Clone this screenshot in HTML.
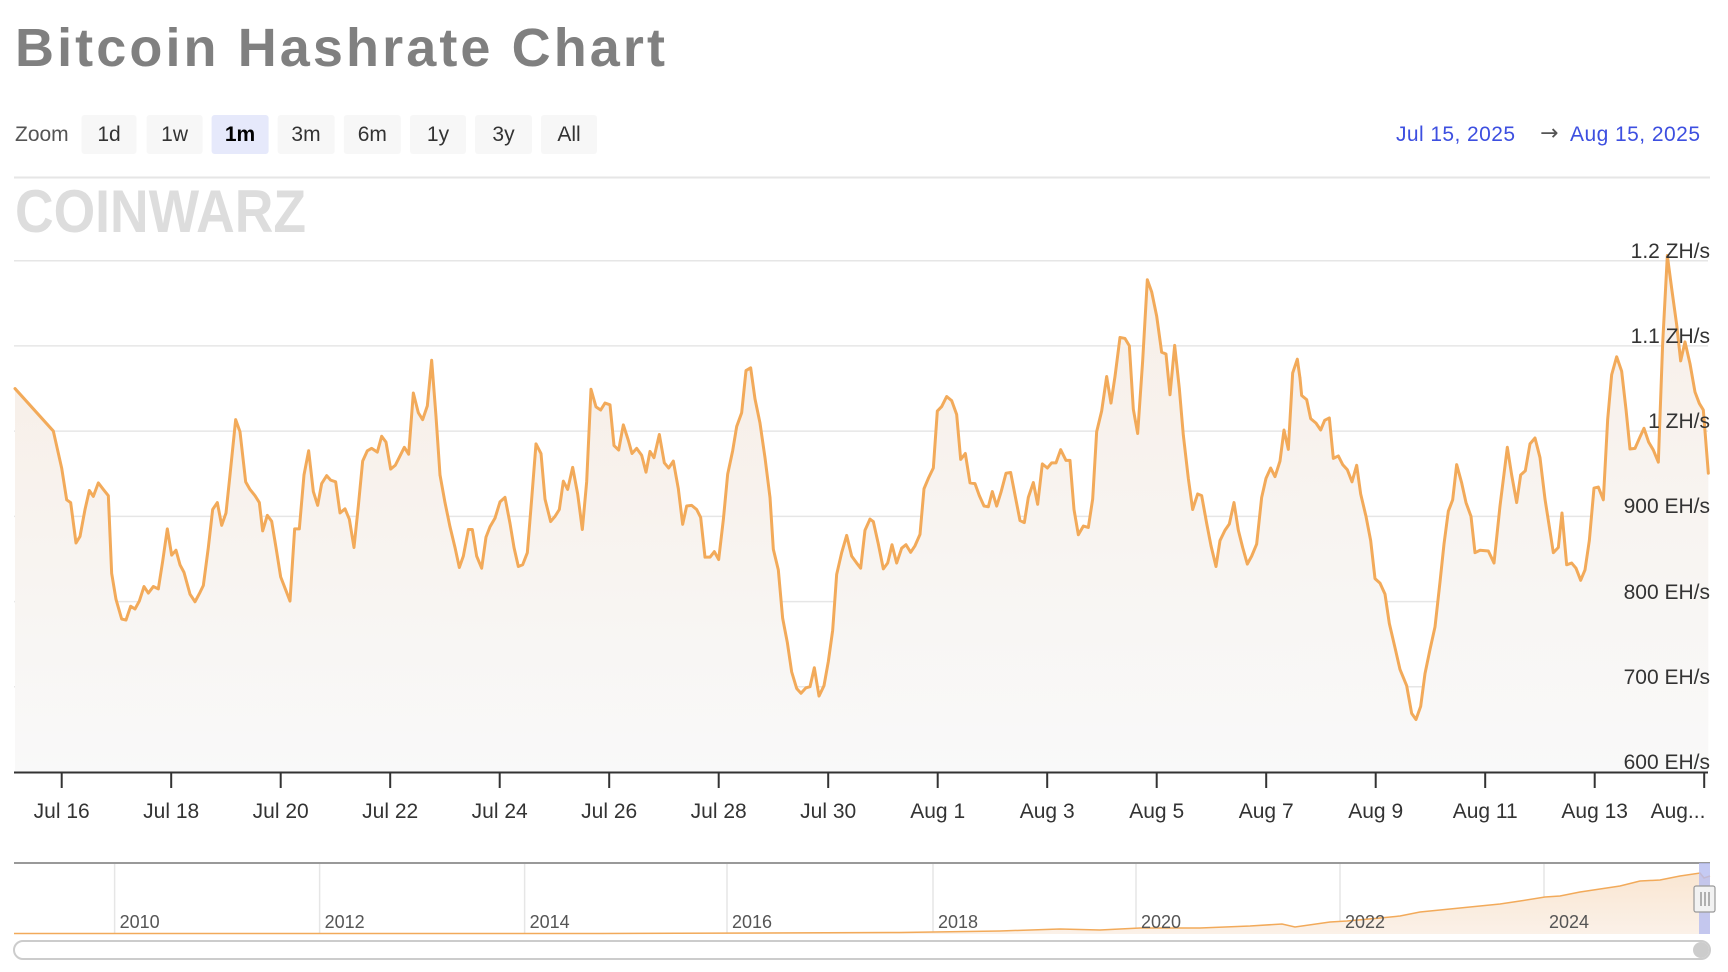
<!DOCTYPE html>
<html><head><meta charset="utf-8"><style>
html,body{margin:0;padding:0;background:#fff;}
svg{display:block;font-family:"Liberation Sans",sans-serif;}
</style></head><body>
<svg width="1728" height="972" viewBox="0 0 1728 972" xmlns="http://www.w3.org/2000/svg">
<defs>
<linearGradient id="fg" x1="0" y1="0" x2="0" y2="1">
<stop offset="0" stop-color="#f7efe8"/><stop offset="1" stop-color="#f9f9f9"/>
</linearGradient>
<linearGradient id="ng" x1="0" y1="0" x2="0" y2="1">
<stop offset="0" stop-color="#f9e6d2"/><stop offset="1" stop-color="#fbf1e8"/>
</linearGradient>
</defs>
<text x="15" y="66" font-size="54" font-weight="bold" fill="#808080" textLength="650" lengthAdjust="spacing">Bitcoin Hashrate Chart</text>
<text x="15" y="141" font-size="21" fill="#555">Zoom</text>
<g font-size="21" fill="#333" text-anchor="middle">
<rect x="81.5" y="115" width="55" height="39" rx="3" fill="#f7f7f7"/><text x="109" y="141">1d</text>
<rect x="146.6" y="115" width="56" height="39" rx="3" fill="#f7f7f7"/><text x="174.6" y="141">1w</text>
<rect x="211.6" y="115" width="57" height="39" rx="3" fill="#e6e9fb"/><text x="240" y="141" font-weight="bold" fill="#000">1m</text>
<rect x="277.7" y="115" width="57" height="39" rx="3" fill="#f7f7f7"/><text x="306" y="141">3m</text>
<rect x="343.8" y="115" width="57" height="39" rx="3" fill="#f7f7f7"/><text x="372.3" y="141">6m</text>
<rect x="410" y="115" width="56" height="39" rx="3" fill="#f7f7f7"/><text x="438" y="141">1y</text>
<rect x="475" y="115" width="57" height="39" rx="3" fill="#f7f7f7"/><text x="503.5" y="141">3y</text>
<rect x="541" y="115" width="56" height="39" rx="3" fill="#f7f7f7"/><text x="569" y="141">All</text>
</g>
<text x="1396" y="141" font-size="21" fill="#3d4fe0" textLength="119">Jul 15, 2025</text>
<text x="1540" y="140" font-size="22" fill="#555" font-family="DejaVu Sans, sans-serif">→</text>
<text x="1570" y="141" font-size="21" fill="#3d4fe0" textLength="130">Aug 15, 2025</text>
<line x1="14" y1="177.5" x2="1710" y2="177.5" stroke="#e6e6e6" stroke-width="2"/>
<text x="15" y="232" font-size="60" font-weight="bold" fill="#dddddd" textLength="291" lengthAdjust="spacingAndGlyphs">COINWARZ</text>
<g stroke="#e6e6e6" stroke-width="1.5">
<line x1="14" y1="260.7" x2="1708" y2="260.7"/>
<line x1="14" y1="345.9" x2="1708" y2="345.9"/>
<line x1="14" y1="431.1" x2="1708" y2="431.1"/>
<line x1="14" y1="516.4" x2="1708" y2="516.4"/>
<line x1="14" y1="601.6" x2="1708" y2="601.6"/>
<line x1="14" y1="686.8" x2="1708" y2="686.8"/>
</g>
<g fill="url(#fg)" stroke="none">
<g transform="translate(0,240) scale(0.33333,0.3455)">
<polygon points="45,1540 45,430 160,553 185,660 200,752 212,760 228,877 240,858 255,780 268,725 280,742 295,703 310,722 325,740 335,965 348,1040 365,1097 378,1100 392,1060 405,1068 418,1045 432,1003 445,1022 460,1003 475,1010 488,930 502,836 515,912 528,898 540,940 552,962 570,1025 585,1047 600,1020 610,1000 625,890 638,780 652,760 665,826 678,790 690,680 707,520 720,555 730,640 737,700 750,722 765,740 778,760 788,842 802,797 815,814 828,890 842,975 856,1010 870,1045 884,836 898,836 912,680 926,610 940,728 953,768 965,705 980,682 992,695 1007,700 1020,790 1035,778 1048,808 1062,890 1075,770 1088,640 1102,610 1115,603 1132,614 1145,568 1158,585 1172,663 1186,652 1200,625 1213,600 1226,620 1240,443 1255,500 1268,520 1282,480 1295,348 1308,510 1320,680 1320,1540"/>
</g>
<g transform="translate(430,240) scale(0.33333,0.3455)">
<polygon points="30,1540 30,680 45,760 60,830 75,890 88,948 100,915 115,838 127,838 140,915 155,950 168,860 180,830 195,805 210,758 225,745 240,820 252,890 265,945 278,940 292,905 305,750 318,590 333,618 345,750 362,815 375,800 388,780 400,698 413,722 428,658 443,735 457,838 470,700 483,432 498,483 512,492 525,472 540,477 552,595 566,608 580,535 595,580 606,618 620,603 635,623 648,672 660,612 672,630 688,563 703,645 716,660 730,640 745,720 758,823 770,770 785,768 800,780 812,803 825,918 840,918 853,902 866,925 880,810 893,678 908,610 920,540 935,500 948,378 962,370 975,460 990,530 1005,630 1020,745 1030,895 1045,955 1058,1095 1072,1165 1085,1250 1100,1298 1113,1312 1128,1296 1140,1293 1153,1238 1167,1320 1182,1290 1195,1220 1208,1130 1220,968 1235,905 1250,855 1265,915 1280,935 1292,950 1305,840 1320,808 1320,1540"/>
</g>
<g transform="translate(860,240) scale(0.33333,0.3455)">
<polygon points="30,1540 30,808 40,815 55,880 70,952 83,935 96,882 110,935 125,892 138,882 152,904 165,885 180,852 192,720 205,690 220,660 232,495 245,482 260,453 275,465 290,505 302,635 316,618 330,703 345,705 358,740 372,770 385,772 397,728 410,770 423,730 438,675 452,673 466,743 480,812 493,818 505,745 520,702 533,765 547,648 562,660 575,645 588,645 602,607 618,638 630,638 642,780 655,853 670,828 685,832 698,750 710,555 725,495 740,395 753,472 765,395 780,282 795,285 808,306 820,490 833,560 848,350 862,115 875,150 890,220 905,325 918,330 930,448 944,305 958,430 970,565 985,690 998,780 1013,735 1025,740 1040,820 1053,885 1068,945 1080,870 1095,840 1108,822 1122,760 1135,840 1148,890 1162,938 1175,915 1190,880 1205,745 1218,690 1232,660 1245,685 1260,640 1272,550 1285,606 1298,385 1312,345 1320,400 1320,1540"/>
</g>
<g transform="translate(1290,240) scale(0.33333,0.3455)">
<polygon points="30,1540 30,400 35,450 50,462 62,517 78,530 92,550 104,522 118,515 130,632 145,625 158,650 172,665 186,700 200,652 212,735 228,800 242,870 255,980 270,993 285,1025 298,1110 315,1180 330,1243 350,1290 365,1370 378,1388 392,1350 405,1255 420,1185 435,1120 450,990 462,880 475,785 488,752 500,650 515,703 528,760 543,800 555,905 570,898 595,900 612,935 630,770 652,600 665,680 680,760 692,680 706,668 720,590 735,573 750,630 765,750 778,830 790,905 805,890 816,790 830,940 845,935 858,950 872,985 885,955 898,870 912,718 925,715 940,752 953,520 965,390 980,338 995,380 1008,490 1020,605 1035,603 1050,570 1062,545 1076,585 1090,608 1105,643 1118,300 1132,45 1145,140 1160,245 1172,350 1185,295 1200,358 1215,440 1228,473 1240,492 1255,675 1255,1540"/>
</g>
</g>
<g fill="none" stroke="#f2aa5a" stroke-width="3" stroke-linejoin="round" stroke-linecap="round">
<g transform="translate(0,240) scale(0.33333,0.3455)">
<polyline vector-effect="non-scaling-stroke" points="45,430 160,553 185,660 200,752 212,760 228,877 240,858 255,780 268,725 280,742 295,703 310,722 325,740 335,965 348,1040 365,1097 378,1100 392,1060 405,1068 418,1045 432,1003 445,1022 460,1003 475,1010 488,930 502,836 515,912 528,898 540,940 552,962 570,1025 585,1047 600,1020 610,1000 625,890 638,780 652,760 665,826 678,790 690,680 707,520 720,555 730,640 737,700 750,722 765,740 778,760 788,842 802,797 815,814 828,890 842,975 856,1010 870,1045 884,836 898,836 912,680 926,610 940,728 953,768 965,705 980,682 992,695 1007,700 1020,790 1035,778 1048,808 1062,890 1075,770 1088,640 1102,610 1115,603 1132,614 1145,568 1158,585 1172,663 1186,652 1200,625 1213,600 1226,620 1240,443 1255,500 1268,520 1282,480 1295,348 1308,510 1320,680"/>
</g>
<g transform="translate(430,240) scale(0.33333,0.3455)">
<polyline vector-effect="non-scaling-stroke" points="30,680 45,760 60,830 75,890 88,948 100,915 115,838 127,838 140,915 155,950 168,860 180,830 195,805 210,758 225,745 240,820 252,890 265,945 278,940 292,905 305,750 318,590 333,618 345,750 362,815 375,800 388,780 400,698 413,722 428,658 443,735 457,838 470,700 483,432 498,483 512,492 525,472 540,477 552,595 566,608 580,535 595,580 606,618 620,603 635,623 648,672 660,612 672,630 688,563 703,645 716,660 730,640 745,720 758,823 770,770 785,768 800,780 812,803 825,918 840,918 853,902 866,925 880,810 893,678 908,610 920,540 935,500 948,378 962,370 975,460 990,530 1005,630 1020,745 1030,895 1045,955 1058,1095 1072,1165 1085,1250 1100,1298 1113,1312 1128,1296 1140,1293 1153,1238 1167,1320 1182,1290 1195,1220 1208,1130 1220,968 1235,905 1250,855 1265,915 1280,935 1292,950 1305,840 1320,808"/>
</g>
<g transform="translate(860,240) scale(0.33333,0.3455)">
<polyline vector-effect="non-scaling-stroke" points="30,808 40,815 55,880 70,952 83,935 96,882 110,935 125,892 138,882 152,904 165,885 180,852 192,720 205,690 220,660 232,495 245,482 260,453 275,465 290,505 302,635 316,618 330,703 345,705 358,740 372,770 385,772 397,728 410,770 423,730 438,675 452,673 466,743 480,812 493,818 505,745 520,702 533,765 547,648 562,660 575,645 588,645 602,607 618,638 630,638 642,780 655,853 670,828 685,832 698,750 710,555 725,495 740,395 753,472 765,395 780,282 795,285 808,306 820,490 833,560 848,350 862,115 875,150 890,220 905,325 918,330 930,448 944,305 958,430 970,565 985,690 998,780 1013,735 1025,740 1040,820 1053,885 1068,945 1080,870 1095,840 1108,822 1122,760 1135,840 1148,890 1162,938 1175,915 1190,880 1205,745 1218,690 1232,660 1245,685 1260,640 1272,550 1285,606 1298,385 1312,345 1320,400"/>
</g>
<g transform="translate(1290,240) scale(0.33333,0.3455)">
<polyline vector-effect="non-scaling-stroke" points="30,400 35,450 50,462 62,517 78,530 92,550 104,522 118,515 130,632 145,625 158,650 172,665 186,700 200,652 212,735 228,800 242,870 255,980 270,993 285,1025 298,1110 315,1180 330,1243 350,1290 365,1370 378,1388 392,1350 405,1255 420,1185 435,1120 450,990 462,880 475,785 488,752 500,650 515,703 528,760 543,800 555,905 570,898 595,900 612,935 630,770 652,600 665,680 680,760 692,680 706,668 720,590 735,573 750,630 765,750 778,830 790,905 805,890 816,790 830,940 845,935 858,950 872,985 885,955 898,870 912,718 925,715 940,752 953,520 965,390 980,338 995,380 1008,490 1020,605 1035,603 1050,570 1062,545 1076,585 1090,608 1105,643 1118,300 1132,45 1145,140 1160,245 1172,350 1185,295 1200,358 1215,440 1228,473 1240,492 1255,675"/>
</g>
</g>
<g font-size="21" fill="#333" text-anchor="end">
<text x="1710" y="258">1.2 ZH/s</text>
<text x="1710" y="343">1.1 ZH/s</text>
<text x="1710" y="428">1 ZH/s</text>
<text x="1710" y="513">900 EH/s</text>
<text x="1710" y="599">800 EH/s</text>
<text x="1710" y="684">700 EH/s</text>
<text x="1710" y="769">600 EH/s</text>
</g>
<line x1="14" y1="772.5" x2="1708" y2="772.5" stroke="#333" stroke-width="2"/>
<g stroke="#333" stroke-width="2">
<line x1="61.7" y1="773" x2="61.7" y2="788"/><line x1="171.2" y1="773" x2="171.2" y2="788"/><line x1="280.7" y1="773" x2="280.7" y2="788"/><line x1="390.2" y1="773" x2="390.2" y2="788"/><line x1="499.7" y1="773" x2="499.7" y2="788"/><line x1="609.2" y1="773" x2="609.2" y2="788"/><line x1="718.7" y1="773" x2="718.7" y2="788"/><line x1="828.2" y1="773" x2="828.2" y2="788"/><line x1="937.7" y1="773" x2="937.7" y2="788"/><line x1="1047.2" y1="773" x2="1047.2" y2="788"/><line x1="1156.7" y1="773" x2="1156.7" y2="788"/><line x1="1266.2" y1="773" x2="1266.2" y2="788"/><line x1="1375.7" y1="773" x2="1375.7" y2="788"/><line x1="1485.2" y1="773" x2="1485.2" y2="788"/><line x1="1594.7" y1="773" x2="1594.7" y2="788"/><line x1="1704.2" y1="773" x2="1704.2" y2="788"/>
</g>
<g font-size="21" fill="#333" text-anchor="middle">
<text x="61.7" y="818">Jul 16</text><text x="171.2" y="818">Jul 18</text><text x="280.7" y="818">Jul 20</text><text x="390.2" y="818">Jul 22</text><text x="499.7" y="818">Jul 24</text><text x="609.2" y="818">Jul 26</text><text x="718.7" y="818">Jul 28</text><text x="828.2" y="818">Jul 30</text><text x="937.7" y="818">Aug 1</text><text x="1047.2" y="818">Aug 3</text><text x="1156.7" y="818">Aug 5</text><text x="1266.2" y="818">Aug 7</text><text x="1375.7" y="818">Aug 9</text><text x="1485.2" y="818">Aug 11</text><text x="1594.7" y="818">Aug 13</text><text x="1678" y="818">Aug...</text>
</g>
<g stroke="#e6e6e6" stroke-width="1.5">
<line x1="114.6" y1="864" x2="114.6" y2="934"/><line x1="319.6" y1="864" x2="319.6" y2="934"/><line x1="524.6" y1="864" x2="524.6" y2="934"/><line x1="727" y1="864" x2="727" y2="934"/><line x1="933" y1="864" x2="933" y2="934"/><line x1="1136" y1="864" x2="1136" y2="934"/><line x1="1340" y1="864" x2="1340" y2="934"/><line x1="1544" y1="864" x2="1544" y2="934"/>
</g>
<polygon fill="url(#ng)" points="14,934 14,933.5 600,933.5 900,932.5 1000,931 1060,929 1100,930 1140,928 1200,928 1250,926 1282,924 1295,927 1330,922 1347,921 1380,918 1400,916 1420,912 1450,909 1480,906 1500,904 1520,901 1545,897 1560,896 1580,892 1600,889 1620,886 1640,881 1660,880 1680,876 1700,873 1704,878 1710,876 1710,934"/>
<polyline fill="none" stroke="#f2aa5a" stroke-width="1.5" points="14,933.5 600,933.5 900,932.5 1000,931 1060,929 1100,930 1140,928 1200,928 1250,926 1282,924 1295,927 1330,922 1347,921 1380,918 1400,916 1420,912 1450,909 1480,906 1500,904 1520,901 1545,897 1560,896 1580,892 1600,889 1620,886 1640,881 1660,880 1680,876 1700,873 1704,878 1710,876"/>
<line x1="14" y1="863" x2="1710" y2="863" stroke="#999" stroke-width="2"/>
<g font-size="18" fill="#555">
<text x="119.6" y="928">2010</text><text x="324.6" y="928">2012</text><text x="529.6" y="928">2014</text><text x="732" y="928">2016</text><text x="938" y="928">2018</text><text x="1141" y="928">2020</text><text x="1345" y="928">2022</text><text x="1549" y="928">2024</text>
</g>
<rect x="1699" y="863" width="11" height="71" fill="#b6bdf0" opacity="0.8"/>
<rect x="1694" y="886" width="21" height="26" rx="2" fill="#f2f2f2" stroke="#999" stroke-width="1.2"/>
<line x1="1701" y1="892" x2="1701" y2="906" stroke="#999" stroke-width="1.5"/>
<line x1="1705" y1="892" x2="1705" y2="906" stroke="#999" stroke-width="1.5"/>
<line x1="1709" y1="892" x2="1709" y2="906" stroke="#999" stroke-width="1.5"/>
<rect x="14" y="941" width="1696" height="18" rx="9" fill="#fff" stroke="#cccccc" stroke-width="2"/>
<circle cx="1701" cy="950" r="8" fill="#cccccc"/>
</svg>
</body></html>
